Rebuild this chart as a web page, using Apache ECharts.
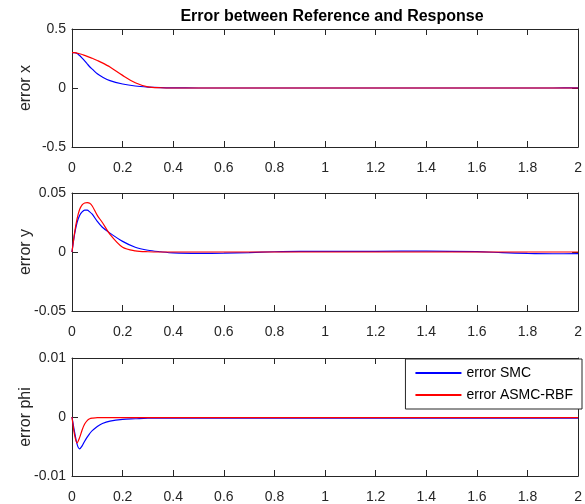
<!DOCTYPE html>
<html>
<head>
<meta charset="utf-8">
<script src="https://cdn.jsdelivr.net/npm/echarts@6/dist/echarts.min.js"></script>
<style>
  html, body { margin: 0; padding: 0; background: #fff; }
  #chart { width: 585px; height: 504px; }
</style>
</head>
<body>
<div id="chart"></div>
<script>
// time samples (s)
const time = [0, 0.01, 0.02, 0.03, 0.04, 0.05, 0.06, 0.07, 0.08, 0.1, 0.12, 0.15, 0.2, 0.25, 0.3, 0.35, 0.4, 0.5, 0.6, 0.7, 0.8, 0.9, 1.0, 1.2, 1.4, 1.6, 1.7, 1.8, 1.9, 2.0]

// error x
const exSMC  = [0.3, 0.299, 0.293, 0.275, 0.253, 0.23, 0.205, 0.18, 0.16, 0.12, 0.093, 0.062, 0.034, 0.017, 0.008, 0.003, 0.001, 0, 0, 0, 0, 0, 0, 0, 0, 0, 0, 0, 0, 0.001]
const exRBF  = [0.3, 0.299, 0.296, 0.29, 0.284, 0.276, 0.268, 0.26, 0.252, 0.233, 0.213, 0.178, 0.107, 0.045, 0.01, 0.002, 0, 0, 0, 0, 0, 0, 0, 0, 0, 0, 0, 0, 0, 0]

// error y
const eySMC  = [0, 0.015, 0.025, 0.031, 0.034, 0.0355, 0.0355, 0.034, 0.032, 0.026, 0.021, 0.016, 0.009, 0.004, 0.0015, 0.0002, -0.0008, -0.0012, -0.001, -0.0005, 0.0002, 0.0005, 0.0005, 0.0006, 0.0008, 0.0003, -0.0005, -0.0012, -0.0015, -0.0014]
const eyRBF  = [0, 0.016, 0.028, 0.036, 0.04, 0.0415, 0.0418, 0.0413, 0.039, 0.031, 0.025, 0.015, 0.004, 0.001, 0.0002, 0, 0, 0, 0, 0, 0, 0, 0, 0, 0, 0, 0, 0, 0, 0]

// error phi
const epSMC  = [0, -0.0025, -0.0046, -0.0054, -0.0049, -0.0041, -0.0034, -0.0028, -0.0023, -0.0016, -0.0011, -0.0007, -0.0004, -0.0003, -0.0002, -0.0002, -0.0002, -0.0002, -0.0002, -0.0002, -0.0002, -0.0002, -0.0002, -0.0002, -0.0002, -0.0002, -0.0002, -0.0002, -0.0002, -0.0002]
const epRBF  = [0, -0.003, -0.0044, -0.0035, -0.0022, -0.0012, -0.0006, -0.0003, -0.0002, -0.0001, -0.0001, -0.0001, -0.0001, -0.0001, -0.0001, -0.0001, -0.0001, -0.0001, -0.0001, -0.0001, -0.0001, -0.0001, -0.0001, -0.0001, -0.0001, -0.0001, -0.0001, -0.0001, -0.0001, -0.0001]

const xTicks = [0, 0.2, 0.4, 0.6, 0.8, 1, 1.2, 1.4, 1.6, 1.8, 2]
const yNames = ['error x', 'error y', 'error phi']
const yLimits = [0.5, 0.05, 0.01]
const seriesNames = ['error SMC', 'error ASMC-RBF']

const ink = '#262626'
const font = 'Liberation Sans, Arial, sans-serif'
const tops = [29, 193, 358]

let chart = echarts.init(document.getElementById('chart'))

let grids = [], xAxes = [], yAxes = [], series = []
const pairs = [[exSMC, exRBF], [eySMC, eyRBF], [epSMC, epRBF]]

const tick = () => ({ show: true, inside: true, length: 6, lineStyle: { color: ink, width: 1 } })
// each axis sits "on zero" of a hidden helper axis whose zero is at the box edge
const line = (idx) => ({ show: true, onZero: true, onZeroAxisIndex: idx, lineStyle: { color: ink, width: 1 } })

tops.forEach((top, i) => {
  const xb = 3 * i, yb = 4 * i
  grids.push({ left: 72, top: top, width: 510, height: 118, show: false })
  xAxes.push({
    gridIndex: i, type: 'value', min: 0, max: 2, interval: 0.2, position: 'bottom',
    axisLine: line(yb + 2), axisTick: tick(), splitLine: { show: false },
    axisLabel: { color: ink, fontSize: 14, fontFamily: font, margin: 14,
      formatter: v => xTicks.includes(+v.toFixed(1)) ? String(+v.toFixed(1)) : '' }
  })
  xAxes.push({
    gridIndex: i, type: 'value', min: 0, max: 2, interval: 0.2, position: 'top',
    axisLine: line(yb + 3), axisTick: tick(), splitLine: { show: false }, axisLabel: { show: false }
  })
  xAxes.push({ gridIndex: i, type: 'value', min: -1, max: 0, show: false })

  let lim = yLimits[i]
  yAxes.push({
    gridIndex: i, type: 'value', min: -lim, max: lim, interval: lim, position: 'left',
    axisLine: line(xb), axisTick: tick(), splitLine: { show: false },
    name: yNames[i], nameLocation: 'middle', nameGap: 38, nameRotate: 90, nameMoveOverlap: false,
    nameTextStyle: { color: ink, fontSize: 16, fontFamily: font },
    axisLabel: { color: ink, fontSize: 14, fontFamily: font, margin: 6, formatter: v => String(v) }
  })
  yAxes.push({
    gridIndex: i, type: 'value', min: -lim, max: lim, interval: lim, position: 'right',
    axisLine: line(xb + 2), axisTick: tick(), splitLine: { show: false }, axisLabel: { show: false }
  })
  yAxes.push({ gridIndex: i, type: 'value', min: 0, max: 1, show: false })
  yAxes.push({ gridIndex: i, type: 'value', min: -1, max: 0, show: false })

  const colors = ['#0000ff', '#ff0000']
  pairs[i].forEach((vals, k) => {
    series.push({
      name: seriesNames[k], type: 'line', xAxisIndex: xb, yAxisIndex: yb,
      data: time.map((t, j) => [t, vals[j]]),
      showSymbol: false, smooth: 0.3,
      lineStyle: { color: colors[k], width: 1.2 },
      itemStyle: { color: colors[k] },
      z: 3 + k
    })
  })
})

let option = {
  animation: false,
  backgroundColor: '#fff',
  title: {
    text: 'Error between Reference and Response',
    left: 327, top: 4, textAlign: 'center',
    textStyle: { color: '#000', fontSize: 16, fontWeight: 'bold', fontFamily: font }
  },
  legend: {
    data: seriesNames,
    orient: 'vertical',
    right: 3, top: 359,
    backgroundColor: '#fff', borderColor: ink, borderWidth: 1, borderRadius: 0,
    padding: [6, 9, 6, 10],
    itemWidth: 46, itemHeight: 2, itemGap: 6,
    icon: 'rect',
    textStyle: { color: '#000', fontSize: 14, fontFamily: font, lineHeight: 16 },
    z: 10
  },
  grid: grids,
  xAxis: xAxes,
  yAxis: yAxes,
  series: series
}

chart.setOption(option)
</script>
</body>
</html>
